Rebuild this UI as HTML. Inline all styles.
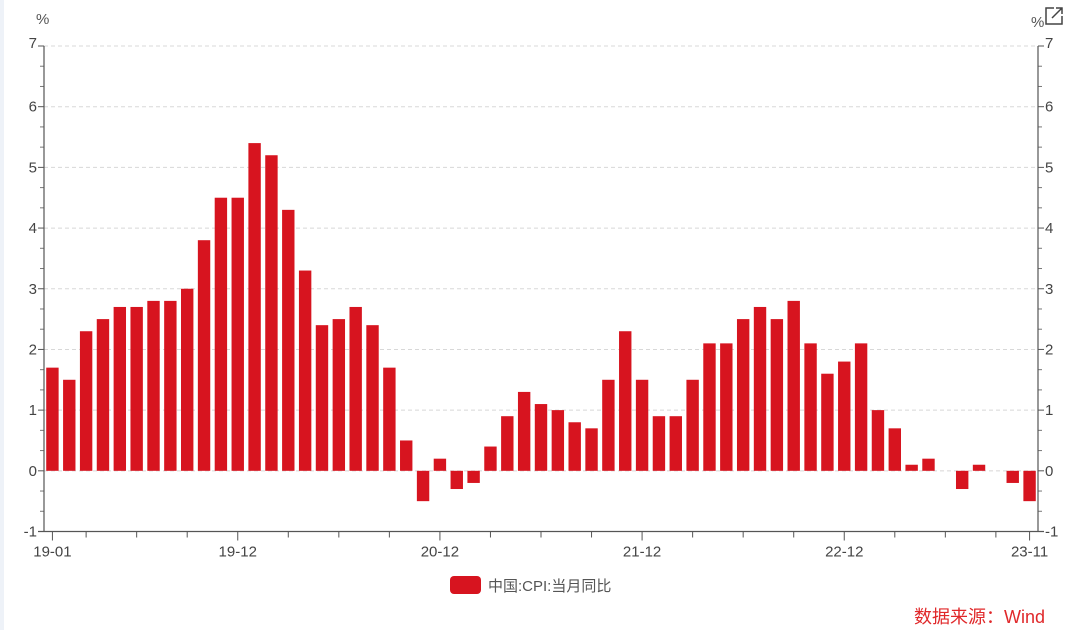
<!DOCTYPE html>
<html><head><meta charset="utf-8">
<style>
html,body{margin:0;padding:0;background:#fff;}
body{width:1080px;height:630px;overflow:hidden;font-family:"Liberation Sans","Noto Sans CJK SC",sans-serif;}
svg text{font-family:"Liberation Sans","Noto Sans CJK SC",sans-serif;}
</style></head>
<body>
<svg id="chart" width="1080" height="630" xmlns="http://www.w3.org/2000/svg">
<rect x="0" y="0" width="4" height="630" fill="#eef2f8"/>
<g id="grid"></g>
<g id="bars"></g>
<g id="axes"></g>
<text x="36" y="24" font-size="15" fill="#555">%</text>
<text x="1031" y="27" font-size="15" fill="#555">%</text>
<g stroke="#444" stroke-width="1.5" fill="none">
<path d="M1054 8 H1046 V24 H1062 V16"/><path d="M1052 18 L1062 8 M1056 8 H1062 V14"/>
</g>
<rect x="450" y="576" width="31" height="18" rx="4" fill="#d7141f"/>
<text x="488" y="591" font-size="15" fill="#555">中国:CPI:当月同比</text>
<text x="1045" y="623" font-size="18" fill="#e0282a" text-anchor="end">数据来源：Wind</text>
</svg>
<script>
const categories = [];
for (let y = 19; y <= 23; y++) for (let m = 1; m <= 12; m++) { if (y === 23 && m > 11) break; categories.push(y + '-' + (m < 10 ? '0' + m : m)); }
const cpiValues = [1.7,1.5,2.3,2.5,2.7,2.7,2.8,2.8,3.0,3.8,4.5,4.5,
5.4,5.2,4.3,3.3,2.4,2.5,2.7,2.4,1.7,0.5,-0.5,0.2,
-0.3,-0.2,0.4,0.9,1.3,1.1,1.0,0.8,0.7,1.5,2.3,1.5,
0.9,0.9,1.5,2.1,2.1,2.5,2.7,2.5,2.8,2.1,1.6,1.8,
2.1,1.0,0.7,0.1,0.2,0.0,-0.3,0.1,0.0,-0.2,-0.5];
const yTicks = [-1,0,1,2,3,4,5,6,7];
const xLabels = ['19-01','19-12','20-12','21-12','22-12','23-11'];

const NS = 'http://www.w3.org/2000/svg';
const L = 44, R = 1038, yMin = -1, yMax = 7, TOP = 46, BOT = 531.5;
const band = (R - L) / categories.length;
function xScale(i) { return L + band * (i + 0.5); }
function yScale(v) { return BOT - (v - yMin) / (yMax - yMin) * (BOT - TOP); }
function mk(tag, attrs, parent) { const e = document.createElementNS(NS, tag); for (const k in attrs) e.setAttribute(k, attrs[k]); parent.appendChild(e); return e; }
const grid = document.getElementById('grid'), bars = document.getElementById('bars'), axes = document.getElementById('axes');

yTicks.forEach(t => {
  const y = yScale(t);
  if (t > yMin) {
    const g = mk('line', {x1: L, x2: R, y1: y, y2: y, stroke: '#d8d8d8', 'stroke-dasharray': '4,3'}, grid);
    
    
  }
  [[L, -7, 'end', 'left'], [R, 7, 'start', 'right']].forEach(([x, d, a, side]) => {
    const tk = mk('line', {x1: x, x2: x + (d < 0 ? -6 : 6), y1: y, y2: y, stroke: '#555'}, axes);
    
    
    const tx = mk('text', {x: x + d, y: y + (t === yMax ? 2 : 5), 'font-size': 15, fill: '#444', 'text-anchor': a}, axes);
    tx.textContent = t;
    
    
  });
  if (t < yMax) {
    for (let k = 1; k < 3; k++) {
      const ym = yScale(t + k / 3);
      [[L, -4], [R, 4]].forEach(([x, d]) => {
        const m = mk('line', {x1: x, x2: x + d, y1: ym, y2: ym, stroke: '#777'}, axes);
        
        
      });
    }
  }
});

cpiValues.forEach((v, i) => {
  const y0 = yScale(0), y1 = yScale(v);
  const b = mk('rect', {x: xScale(i) - 6.2, width: 12.4, y: Math.min(y0, y1), height: Math.max(Math.abs(y1 - y0), 0.01), fill: '#d7141f'}, bars);
  
  
});

[L, R].forEach((x, j) => {
  const a = mk('line', {x1: x, x2: x, y1: TOP, y2: BOT, stroke: '#555', 'stroke-width': 1.2}, axes);
  
  
});
const xa = mk('line', {x1: L - 6, x2: R + 6, y1: BOT, y2: BOT, stroke: '#555', 'stroke-width': 1.2}, axes);



categories.forEach((c, i) => {
  const major = xLabels.includes(c);
  if (major || (i % 3 === 2)) {
    const tk = mk('line', {x1: xScale(i), x2: xScale(i), y1: BOT, y2: BOT + (major ? 9 : 6), stroke: '#555'}, axes);
    
    
  }
  if (major) {
    const tx = mk('text', {x: xScale(i), y: BOT + 25, 'font-size': 15, fill: '#444', 'text-anchor': 'middle'}, axes);
    tx.textContent = c;
    
    
  }
});
</script>
</body></html>
